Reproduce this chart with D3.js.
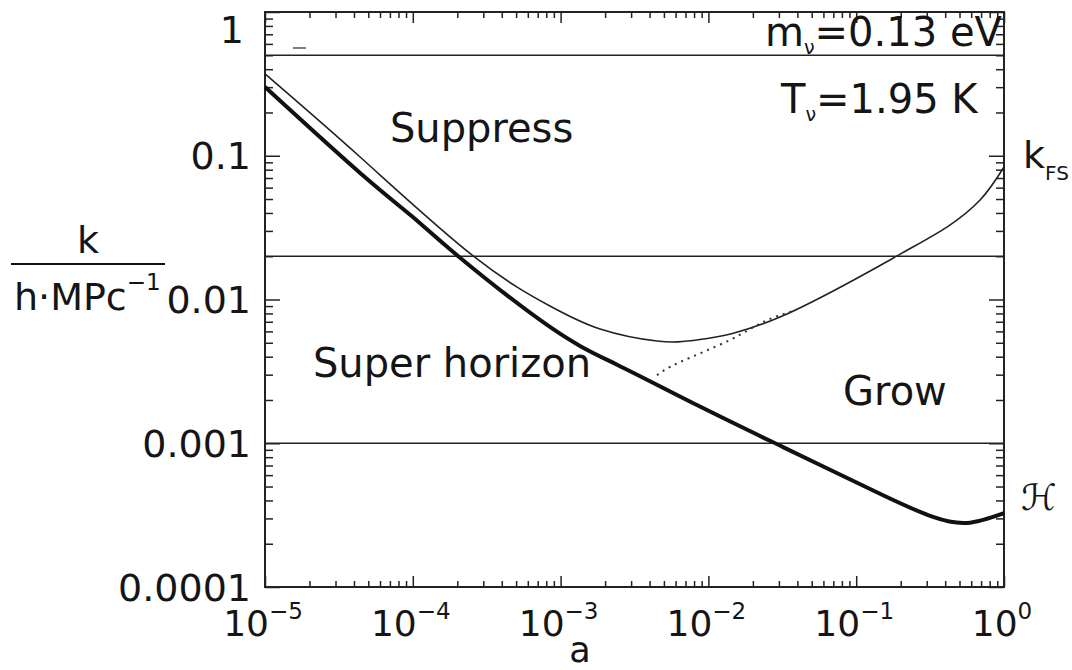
<!DOCTYPE html>
<html>
<head>
<meta charset="utf-8">
<script src="https://cdn.jsdelivr.net/npm/d3@7"></script>
<style>
  body { margin: 0; background: #fff; }
  text { font-family: "DejaVu Sans", Verdana, sans-serif; fill: #151515; }
</style>
</head>
<body>
<svg id="chart" width="1072" height="670"></svg>
<script>
// values
const horizonA = [1e-5, 4.4e-5, 1e-4, 2.02e-4, 8.47e-4, 2.41e-3, 8.77e-3, 0.032, 0.152, 0.331, 0.562, 1];
const horizonK = [0.301, 0.0759, 0.0375, 0.0201, 0.00644, 0.00352, 0.0018, 9.4e-4, 4.35e-4, 3.07e-4, 2.79e-4, 3.27e-4];

const freeStreamA = [1e-5, 4.4e-5, 2.56e-4, 8.47e-4, 1.85e-3, 4.49e-3, 8.77e-3, 0.0305, 0.189, 0.411, 0.689, 1];
const freeStreamK = [0.371, 0.098, 0.0201, 0.00901, 0.00623, 0.00514, 0.00527, 0.00755, 0.0201, 0.0319, 0.0492, 0.0835];

const dottedA = [4.49e-3, 6.43e-3, 0.014, 0.0234, 0.0385];
const dottedK = [0.00298, 0.00367, 0.00523, 0.00697, 0.0084];

const levelLines = [0.5, 0.02, 0.001];

const yTickVals = [1, 0.1, 0.01, 0.001, 0.0001];
const yTickLabels = ["1", "0.1", "0.01", "0.001", "0.0001"];
const xTickVals = [1e-5, 1e-4, 1e-3, 1e-2, 1e-1, 1];
const xTickExps = ["\u22125", "\u22124", "\u22123", "\u22122", "\u22121", "0"];

const regionLabels = [
    {text: "Suppress", a: 7.0e-5, k: 0.125},
    {text: "Super horizon", a: 2.11e-5, k: 0.00289},
    {text: "Grow", a: 0.0815, k: 0.00185}
];

const svg = d3.select("#chart");
const plotL = 265, plotR = 1004, plotT = 12, plotB = 587;

const x = d3.scaleLog().domain([1e-5, 1]).range([plotL, plotR]);
const y = d3.scaleLog().domain([1e-4, 1]).range([plotB, plotT]);

const minorX = x.ticks().filter(d => xTickVals.indexOf(d) < 0);
const minorY = y.ticks().filter(d => yTickVals.indexOf(d) < 0);

function ticks(axis, tx, ty) {
    const g = svg.append("g").attr("transform", `translate(${tx},${ty})`).call(axis);
    g.select(".domain").remove();
    g.selectAll("line").attr("stroke", "#222").attr("stroke-width", 1.5);
}

ticks(d3.axisBottom(x).tickValues(xTickVals).tickSize(-11).tickFormat(""), 0, plotB);
ticks(d3.axisBottom(x).tickValues(minorX).tickSize(-6).tickFormat(""), 0, plotB);
ticks(d3.axisTop(x).tickValues(xTickVals).tickSize(-11).tickFormat(""), 0, plotT);
ticks(d3.axisTop(x).tickValues(minorX).tickSize(-6).tickFormat(""), 0, plotT);
ticks(d3.axisLeft(y).tickValues(yTickVals).tickSize(-15).tickFormat(""), plotL, 0);
ticks(d3.axisLeft(y).tickValues(minorY).tickSize(-8).tickFormat(""), plotL, 0);
ticks(d3.axisRight(y).tickValues(yTickVals).tickSize(-15).tickFormat(""), plotR, 0);
ticks(d3.axisRight(y).tickValues(minorY).tickSize(-8).tickFormat(""), plotR, 0);

svg.append("rect")
    .attr("x", plotL).attr("y", plotT)
    .attr("width", plotR - plotL).attr("height", plotB - plotT)
    .attr("fill", "none").attr("stroke", "#222").attr("stroke-width", 2);

svg.selectAll(".level")
    .data(levelLines)
    .enter().append("line")
    .attr("class", "level")
    .attr("x1", plotL).attr("x2", plotR)
    .attr("y1", d => y(d)).attr("y2", d => y(d))
    .attr("stroke", "#222").attr("stroke-width", 1.6);

const line = d3.line()
    .x(d => x(d[0]))
    .y(d => y(d[1]))
    .curve(d3.curveNatural);

svg.append("path")
    .datum(freeStreamA.map((a, i) => [a, freeStreamK[i]]))
    .attr("d", line)
    .attr("fill", "none").attr("stroke", "#222").attr("stroke-width", 1.6);

svg.append("path")
    .datum(dottedA.map((a, i) => [a, dottedK[i]]))
    .attr("d", line)
    .attr("fill", "none").attr("stroke", "#333").attr("stroke-width", 2)
    .attr("stroke-dasharray", "2,5");

svg.append("path")
    .datum(horizonA.map((a, i) => [a, horizonK[i]]))
    .attr("d", line)
    .attr("fill", "none").attr("stroke", "#111").attr("stroke-width", 4);

// y tick labels
svg.selectAll(".ylab")
    .data(yTickVals)
    .enter().append("text")
    .attr("class", "ylab")
    .attr("x", d => d === 1 ? 244 : 251)
    .attr("y", d => y(d) + (d === 1 ? 17 : 0))
    .attr("dy", "0.36em")
    .attr("text-anchor", "end")
    .style("font-size", "38px")
    .text((d, i) => yTickLabels[i]);

// x tick labels
const xl = svg.selectAll(".xlab")
    .data(xTickVals)
    .enter().append("text")
    .attr("class", "xlab")
    .attr("x", d => x(d) - 2)
    .attr("y", 636)
    .attr("text-anchor", "middle")
    .style("font-size", "36px");
xl.append("tspan").text("10");
xl.append("tspan").attr("dy", -17).style("font-size", "23px").text((d, i) => xTickExps[i]);

svg.append("text")
    .attr("x", 580).attr("y", 662)
    .attr("text-anchor", "middle")
    .style("font-size", "35px")
    .text("a");

// y axis label as a fraction
svg.append("text")
    .attr("x", 88).attr("y", 253)
    .attr("text-anchor", "middle")
    .style("font-size", "38px")
    .text("k");
svg.append("line")
    .attr("x1", 11).attr("x2", 165)
    .attr("y1", 264).attr("y2", 264)
    .attr("stroke", "#111").attr("stroke-width", 2.2);
const yl = svg.append("text")
    .attr("x", 14).attr("y", 310)
    .style("font-size", "38px");
yl.append("tspan").text("h\u00b7MPc");
yl.append("tspan").attr("dy", -20).style("font-size", "23px").text("\u22121");

// region labels
svg.selectAll(".region")
    .data(regionLabels)
    .enter().append("text")
    .attr("class", "region")
    .attr("x", d => x(d.a))
    .attr("y", d => y(d.k))
    .style("font-size", "40px")
    .text(d => d.text);

// parameters in the top right corner
const mass = svg.append("text").attr("x", 765).attr("y", 46).style("font-size", "40px");
mass.append("tspan").text("m");
mass.append("tspan").attr("dy", 8).style("font-size", "19px").text("\u03bd");
mass.append("tspan").attr("dy", -8).text("=0.13 eV");

const temp = svg.append("text").attr("x", 781).attr("y", 113).style("font-size", "40px");
temp.append("tspan").text("T");
temp.append("tspan").attr("dy", 8).style("font-size", "19px").text("\u03bd");
temp.append("tspan").attr("dy", -8).text("=1.95 K");

// curve names on the right
const kfs = svg.append("text").attr("x", 1023).attr("y", 168).style("font-size", "38px");
kfs.append("tspan").text("k");
kfs.append("tspan").attr("dy", 12).style("font-size", "20px").text("FS");

svg.append("text")
    .attr("x", 1021).attr("y", 510)
    .style("font-size", "36px")
    .style("font-style", "italic")
    .text("\u210b");

// small stray mark near the top-left corner
svg.append("line")
    .attr("x1", 293).attr("x2", 306)
    .attr("y1", 48).attr("y2", 48)
    .attr("stroke", "#555").attr("stroke-width", 1.5);
</script>
</body>
</html>
